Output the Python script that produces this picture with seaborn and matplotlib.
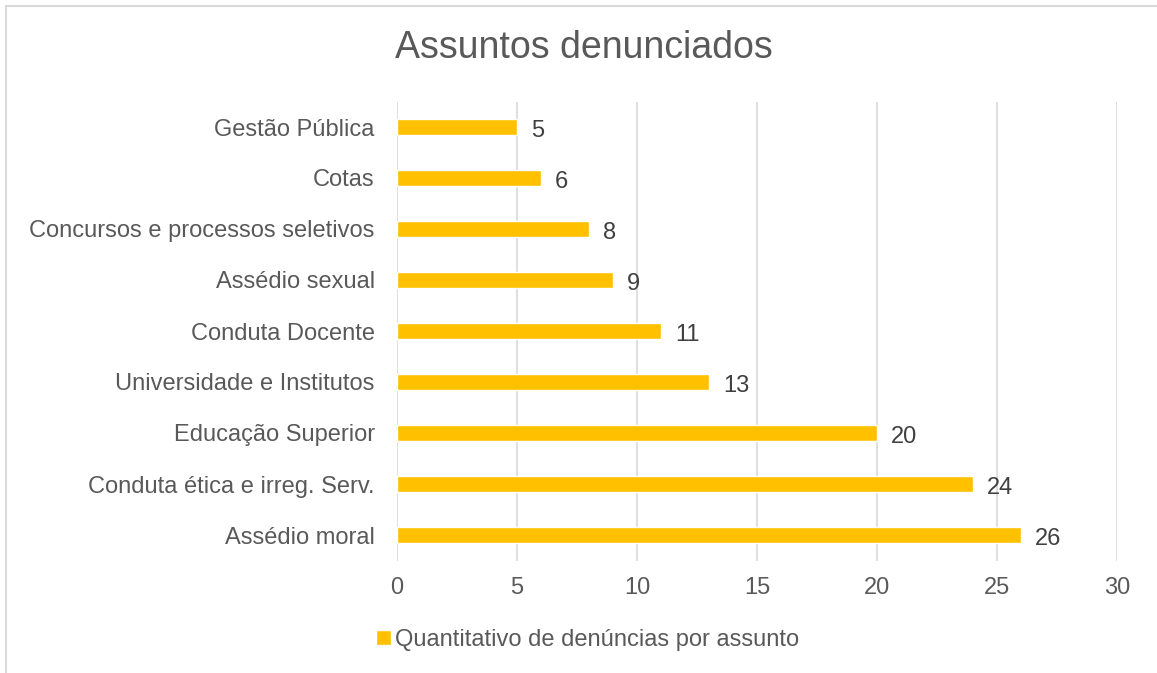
import pandas as pd
import matplotlib.pyplot as plt
import seaborn as sns
from matplotlib.patches import Rectangle

# Data
categories = [
    "Gestão Pública",
    "Cotas",
    "Concursos e processos seletivos",
    "Assédio sexual",
    "Conduta Docente",
    "Universidade e Institutos",
    "Educação Superior",
    "Conduta ética e irreg. Serv.",
    "Assédio moral",
]
counts = [5, 6, 8, 9, 11, 13, 20, 24, 26]
series_name = "Quantitativo de denúncias por assunto"
x_ticks = [0, 5, 10, 15, 20, 25, 30]

df = pd.DataFrame({"assunto": categories, "quantidade": counts})

sns.set_theme(style="white")
plt.rcParams["font.family"] = ["Liberation Sans", "DejaVu Sans"]

text_color = "#595959"
bar_color = "#FFC000"
fs = 17

fig = plt.figure(figsize=(11.57, 6.73), dpi=100)
ax = fig.add_axes([397 / 1157, 1 - 560.5 / 673, 720 / 1157, 459 / 673])

sns.barplot(data=df, x="quantidade", y="assunto", color=bar_color,
            width=0.33, ax=ax, label=series_name, saturation=1)

ax.set_xlim(0, 30)
ax.set_xticks(x_ticks)
ax.set_xlabel("")
ax.set_ylabel("")
ax.grid(axis="x", color="#D9D9D9", linewidth=1.2)
ax.set_axisbelow(True)
for side in ["top", "right", "bottom", "left"]:
    ax.spines[side].set_visible(False)
ax.tick_params(axis="x", colors=text_color, labelsize=fs, length=0, pad=12)
ax.tick_params(axis="y", colors=text_color, labelsize=fs, length=0, pad=16)

# value labels, sitting a little below the bar centre like in Excel
for container in ax.containers:
    labels = ax.bar_label(container, padding=10, fontsize=fs, color="#404040")
    for t in labels:
        t.xyann = (10, -3)

# title and legend
fig.text(584 / 1157, 1 - 48 / 673, "Assuntos denunciados",
         ha="center", va="center", fontsize=27, color=text_color)
leg = ax.legend(loc="center", bbox_to_anchor=(588 / 1157, 1 - 640 / 673),
                bbox_transform=fig.transFigure, frameon=False, fontsize=fs,
                handlelength=0.6, handleheight=0.6, handletextpad=0.2)
for t in leg.get_texts():
    t.set_color(text_color)

# light chart-area border
fig.patches.append(Rectangle((6 / 1157, -0.1), 1.2, 1 - 6 / 673 + 0.1,
                             transform=fig.transFigure, fill=False,
                             edgecolor="#D9D9D9", linewidth=1.5))

plt.savefig("out.png", dpi=100)
